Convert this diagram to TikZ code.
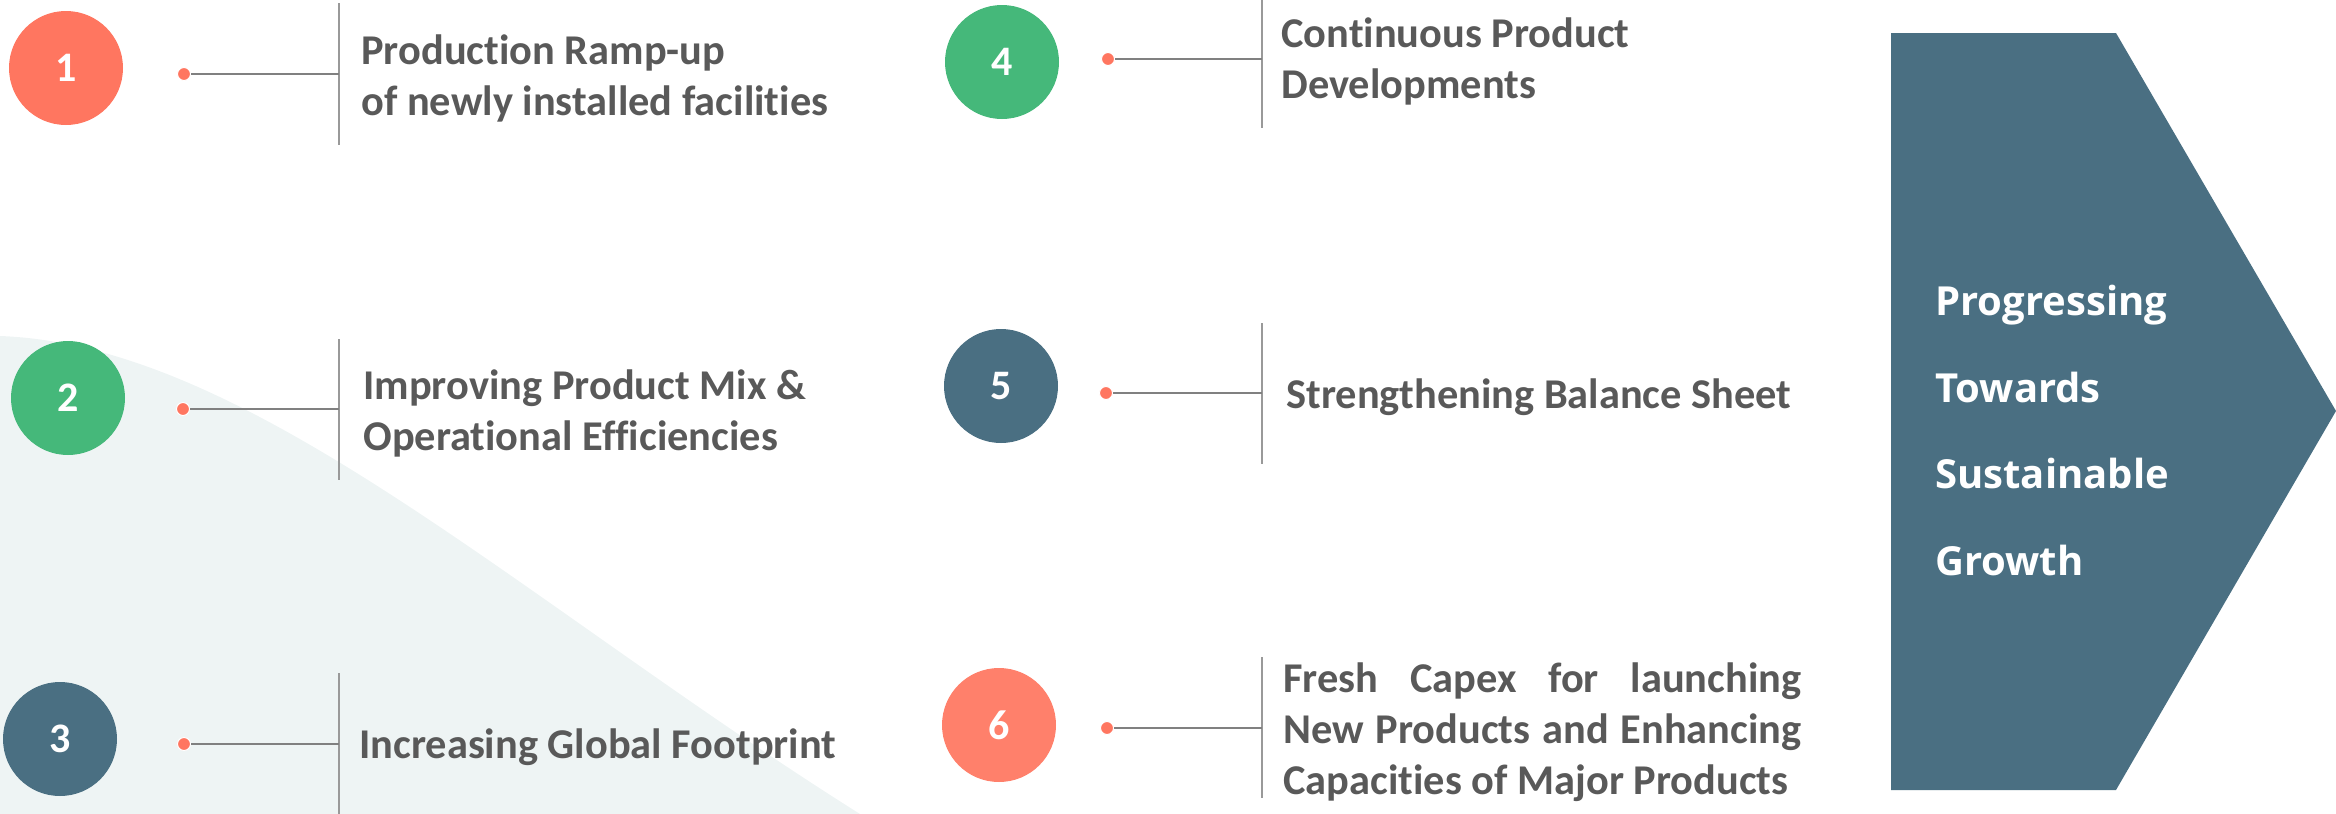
\documentclass[tikz,border=0pt]{standalone}
\usepackage{fontspec}
\setmainfont{Carlito}[Ligatures={NoCommon}]
\newfontfamily\arrowfont{Open Sans}
\definecolor{coral}{HTML}{FF7660}
\definecolor{coralb}{HTML}{FF806B}
\definecolor{leaf}{HTML}{45B87A}
\definecolor{slate}{HTML}{4A6F82}
\definecolor{txt}{HTML}{595959}
\definecolor{linegray}{HTML}{808080}
\definecolor{vgray}{HTML}{999999}
\definecolor{bgtint}{HTML}{EEF4F4}
\begin{document}
\begin{tikzpicture}[x=0.5pt,y=-0.5pt,
  num/.style={circle, minimum size=57pt, inner sep=0pt, text=white,
    font=\bfseries\fontsize{21}{25}\selectfont},
  dotm/.style={circle, fill=coral, draw=white, line width=0.5pt, minimum size=6.5pt, inner sep=0pt},
  conn/.style={draw=linegray, line width=1pt},
  vline/.style={draw=vgray, line width=1pt},
  lbl/.style={anchor=base west, inner sep=0pt, text=txt,
    font=\bfseries\fontsize{21.2}{25.5}\selectfont, align=left},
  goaltext/.style={anchor=base west, inner sep=0pt, text=white,
    font=\arrowfont\bfseries\fontsize{20}{43.25}\selectfont, align=left}]
\useasboundingbox (0,0) rectangle (2336,814);
% background wave
\fill[bgtint] (0,336) .. controls (250,345) and (520,600) .. (860,814) -- (0,814) -- cycle;
% big arrow
\fill[slate] (1891,33) -- (2116,33) -- (2336,411) -- (2116,790) -- (1891,790) -- cycle;
\node[goaltext] (goal) at (1935,575) {Progressing\\Towards\\Sustainable\\Growth};
% circles
\node[num, fill=coral] (c1) at (66,68) {1};
\node[num, fill=leaf] (c2) at (68,398) {2};
\node[num, fill=slate] (c3) at (60,739) {3};
\node[num, fill=leaf] (c4) at (1002,62) {4};
\node[num, fill=slate] (c5) at (1001,386) {5};
\node[num, fill=coralb] (c6) at (999,725) {6};
% junctions and vertical line ends
\coordinate (j1) at (339,74);   \coordinate (v1a) at (339,3);   \coordinate (v1b) at (339,145);
\coordinate (j2) at (339,409);  \coordinate (v2a) at (339,339); \coordinate (v2b) at (339,480);
\coordinate (j3) at (339,744);  \coordinate (v3a) at (339,673); \coordinate (v3b) at (339,816);
\coordinate (j4) at (1262,59);  \coordinate (v4a) at (1262,-12);\coordinate (v4b) at (1262,128);
\coordinate (j5) at (1262,393); \coordinate (v5a) at (1262,323);\coordinate (v5b) at (1262,464);
\coordinate (j6) at (1262,728); \coordinate (v6a) at (1262,657);\coordinate (v6b) at (1262,798);
\foreach \i in {1,...,6} {\draw[vline] (v\i a) -- (v\i b);}
% dots
\node[dotm] (d1) at (184,74) {};
\node[dotm] (d2) at (183,409) {};
\node[dotm] (d3) at (184,744) {};
\node[dotm] (d4) at (1108,59) {};
\node[dotm] (d5) at (1106,393) {};
\node[dotm] (d6) at (1107,728) {};
\foreach \i in {1,...,6} {\draw[conn] (d\i) -- (j\i);}
% texts (base = last line for multi-line nodes)
\node[lbl] (t1) at (361,115) {Production Ramp-up\\of newly installed facilities};
\node[lbl] (t2) at (363,450) {Improving Product Mix \&\\Operational Efficiencies};
\node[lbl] (t3) at (359,758) {Increasing Global Footprint};
\node[lbl] (t4) at (1281,98) {Continuous Product\\Developments};
\node[lbl] (t5) at (1286,408) {Strengthening Balance Sheet};
\node[lbl, text width=259pt, align=justify] (t6) at (1283,692) {Fresh Capex for launching\linebreak New Products and Enhancing\linebreak Capacities of Major Products};
\end{tikzpicture}
\end{document}
